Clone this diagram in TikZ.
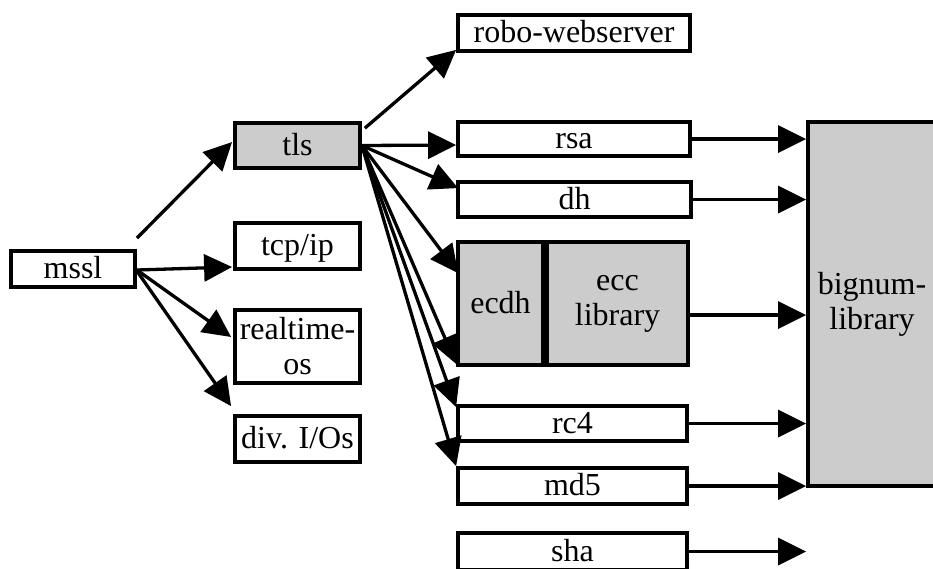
\documentclass[tikz,border=0pt]{standalone}
\usepackage{fontspec}
\setmainfont{Liberation Serif}
\usetikzlibrary{arrows.meta,calc}

\tikzset{
  box/.style={draw=black, line width=3.8pt, fill=white, inner sep=0pt,
    font=\fontsize{32}{35}\selectfont},
  oneline/.style={text height=23pt, text depth=4pt},
  twolines/.style={align=center},
  shaded/.style={box, fill=black!20},
  link/.style={line width=3.3pt, -{Triangle[length=28pt,width=27pt]}},
}

\begin{document}
\begin{tikzpicture}[x=1pt, y=-1pt]
\useasboundingbox (0,0) rectangle (933,568);
\clip (0,0) rectangle (933,568);

% left column
\node[box, oneline, minimum width=124pt, minimum height=36pt] (mssl) at (73,269) {mssl};
\node[shaded, oneline, minimum width=125pt, minimum height=45pt] (tls) at (297.5,145.5) {tls};
\node[box, oneline, minimum width=125pt, minimum height=46pt] (tcpip) at (297.5,246) {tcp/ip};
\node[box, twolines, minimum width=125pt, minimum height=73pt] (rtos) at (297.5,346.5) {realtime-\\os};
\node[box, oneline, minimum width=125pt, minimum height=46pt] (divio) at (297.5,439) {div. I/Os};

% middle column
\node[box, oneline, minimum width=232pt, minimum height=36pt] (robo) at (574,33) {robo-webserver};
\node[box, oneline, minimum width=232pt, minimum height=34pt] (rsa) at (574,139) {rsa};
\node[box, oneline, minimum width=233pt, minimum height=35pt] (dh) at (574.5,199.5) {dh};
\node[shaded, oneline, minimum width=85pt, minimum height=123pt] (ecdh) at (500.5,303.5) {ecdh};
\node[shaded, twolines, minimum width=141pt, minimum height=123pt] (ecc) at (617.5,303.5) {ecc\\library};
\node[box, oneline, minimum width=229pt, minimum height=35pt] (rc4) at (572.5,423.5) {rc4};
\node[box, oneline, minimum width=229pt, minimum height=36pt] (md5) at (572.5,486) {md5};
\node[box, oneline, minimum width=229pt, minimum height=37pt] (sha) at (572.5,551.5) {sha};

% right column
\node[shaded, twolines, minimum width=128pt, minimum height=364pt] (bignum) at (872,304) {bignum-\\library};

% mssl fan-out
\draw[link] ([yshift=11pt]mssl.north east) -- ([yshift=3.5pt,xshift=-1pt]tls.west);
\draw[link] ([yshift=-1pt]mssl.east) -- ([yshift=-21pt,xshift=-1pt]tcpip.west);
\draw[link] ([yshift=-1pt]mssl.east) -- ([yshift=9.5pt,xshift=-2pt]rtos.west);
\draw[link] ([yshift=-2pt]mssl.east) -- ([yshift=8pt,xshift=-2pt]divio.north west);

% tls fan-out
\draw[link] ([xshift=3pt,yshift=-7pt]tls.north east) -- ([yshift=3pt]robo.south west);
\draw[link] (tls.east) -- ([yshift=-6pt]rsa.west);
\draw[link] (tls.east) -- ([xshift=2pt,yshift=-8pt]dh.north west);
\draw[link] (tls.east) -- ([xshift=2pt,yshift=-33pt]ecdh.north west);
\draw[link] (tls.east) -- ([yshift=3pt]ecdh.south west);
\draw[link] (tls.east) -- ([yshift=-3pt]rc4.north west);
\draw[link] (tls.east) -- (md5.north west);

% into the bignum library
\draw[link] (rsa.east) -- (rsa.east -| bignum.west);
\draw[link] (dh.east) -- (dh.east -| bignum.west);
\draw[link] ([yshift=-11.5pt]ecc.east) -- ([yshift=-11.5pt]ecc.east -| bignum.west);
\draw[link] (rc4.east) -- (rc4.east -| bignum.west);
\draw[link] (md5.east) -- (md5.east -| bignum.west);
\draw[link] (sha.east) -- (sha.east -| bignum.west);
\end{tikzpicture}
\end{document}
